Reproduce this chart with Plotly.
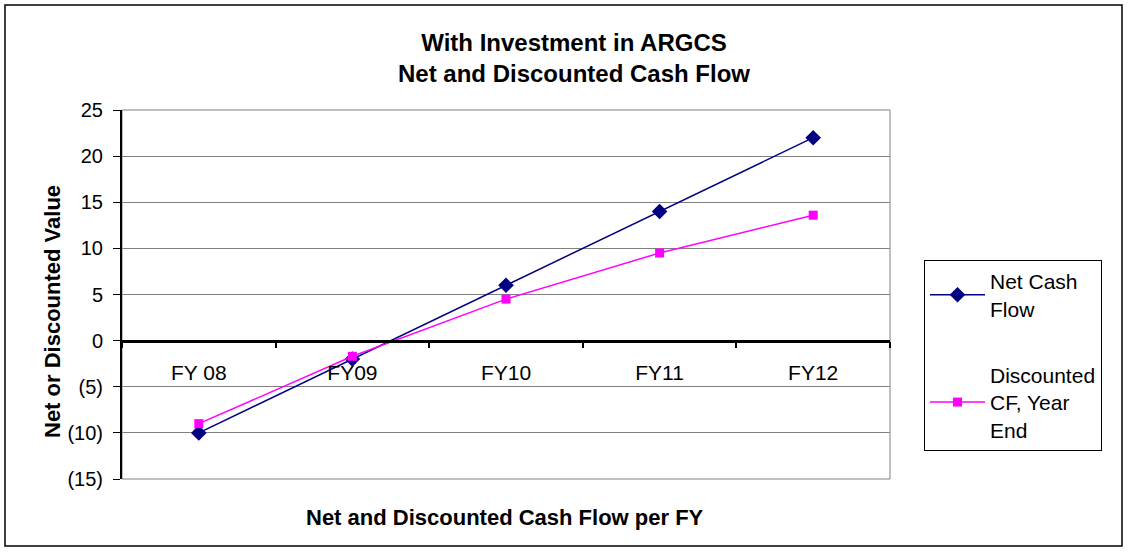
import plotly.graph_objects as go

categories = ["FY 08", "FY09", "FY10", "FY11", "FY12"]
net_cash_flow = [-10, -2, 6, 14, 22]
discounted_cf = [-9, -1.7, 4.5, 9.5, 13.6]
y_tickvals = [25, 20, 15, 10, 5, 0, -5, -10, -15]
y_ticktext = ["25", "20", "15", "10", "5", "0", "(5)", "(10)", "(15)"]

FONT = "Arial, Liberation Sans, sans-serif"

fig = go.Figure()
fig.add_trace(go.Scatter(
    x=categories, y=net_cash_flow, mode="lines+markers",
    name="Net Cash<br>Flow", legendgroup="a",
    line=dict(color="#000080", width=1.5),
    marker=dict(symbol="diamond", size=12, color="#000080"),
))
fig.add_trace(go.Scatter(
    x=categories, y=discounted_cf, mode="lines+markers",
    name="Discounted<br>CF, Year<br>End", legendgroup="b",
    line=dict(color="#FF00FF", width=1.5),
    marker=dict(symbol="square", size=9, color="#FF00FF"),
))

W, H = 1128, 552
L, R, T, B = 122, 238, 110, 73
pw, ph = W - L - R, H - T - B

def px_x(p):
    return (p - L) / pw

def px_y(p):
    return (H - B - p) / ph

fig.update_layout(
    width=W, height=H,
    margin=dict(l=L, r=R, t=T, b=B),
    paper_bgcolor="white", plot_bgcolor="white",
    font=dict(family=FONT, size=20, color="black"),
    showlegend=True,
    title=dict(
        text="<b>With Investment in ARGCS<br>Net and Discounted Cash Flow</b>",
        x=px_x(574), xref="paper", xanchor="center",
        y=1 - 51 / H, yref="container", yanchor="middle",
        font=dict(size=24, family=FONT),
    ),
    xaxis=dict(
        type="category", anchor="free", position=15 / 40,
        showline=True, linecolor="black", linewidth=2.5,
        ticks="outside", tickson="boundaries", ticklen=6, tickwidth=2, tickcolor="black",
        ticklabelstandoff=12,
        showgrid=False, zeroline=False,
        range=[-0.5, 4.5],
        tickfont=dict(size=21),
    ),
    yaxis=dict(
        range=[-15, 25], tickvals=y_tickvals, ticktext=y_ticktext,
        showline=True, linecolor="black", linewidth=2,
        ticks="outside", ticklen=7, tickwidth=1, tickcolor="black",
        ticklabelstandoff=6,
        showgrid=True, gridcolor="#808080", gridwidth=1,
        zeroline=False,
        tickfont=dict(size=20),
    ),
    legend=dict(
        x=px_x(924), y=px_y(260), xanchor="left", yanchor="top",
        bordercolor="black", borderwidth=1, bgcolor="white",
        font=dict(size=21), tracegroupgap=36,
        itemwidth=55,
    ),
    shapes=[
        dict(type="rect", xref="paper", yref="paper", x0=0, x1=1, y0=0, y1=1,
             line=dict(color="#808080", width=1), layer="below"),
        dict(type="rect", xref="paper", yref="paper",
             x0=px_x(5), x1=px_x(1122), y0=px_y(546), y1=px_y(5),
             line=dict(color="black", width=1.5)),
    ],
    annotations=[
        dict(text="<b>Net or Discounted Value</b>", textangle=-90,
             x=px_x(52), y=px_y(312), xref="paper", yref="paper",
             xanchor="center", yanchor="middle",
             showarrow=False, font=dict(size=22)),
        dict(text="<b>Net and Discounted Cash Flow per FY</b>",
             x=px_x(505), y=px_y(517), xref="paper", yref="paper",
             xanchor="center", yanchor="middle",
             showarrow=False, font=dict(size=22)),
    ],
)

fig.write_html("out.html", config={"displayModeBar": False},
               post_script="document.body.style.margin='0';")
